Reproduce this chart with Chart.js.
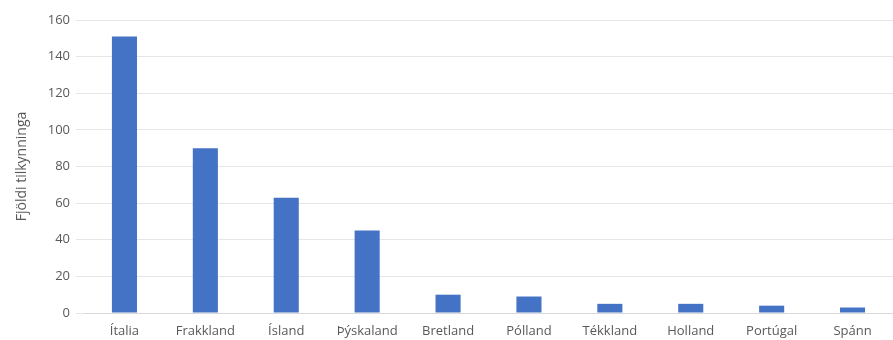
<!DOCTYPE html>
<html>
<head>
<meta charset="utf-8">
<script src="https://cdn.jsdelivr.net/npm/chart.js@4/dist/chart.umd.min.js"></script>
<style>
  html, body { margin:0; padding:0; background:#fff; }
  #wrap { width:893px; height:340px; position:relative; }
</style>
</head>
<body>
<div id="wrap"><canvas id="chart"></canvas></div>
<script>
// Values
const countries = ['Ítalia','Frakkland','Ísland','Þýskaland','Bretland','Pólland','Tékkland','Holland','Portúgal','Spánn'];
const reports = [151, 90, 63, 45, 10, 9, 5, 5, 4, 3];
const yTicks = [0, 20, 40, 60, 80, 100, 120, 140, 160];

const fontFamily = "'Open Sans', 'Liberation Sans', sans-serif";
const tickColor = '#595959';

new Chart(document.getElementById('chart'), {
    type: 'bar',
    data: {
        labels: countries,
        datasets: [{
            label: 'Fjöldi tilkynninga',
            data: reports,
            backgroundColor: '#4472C4',
            categoryPercentage: 1,
            barPercentage: 0.31
        }]
    },
    options: {
        responsive: true,
        maintainAspectRatio: false,
        animation: false,
        layout: { padding: { top: 20, right: 0, bottom: 0, left: 14 } },
        plugins: { legend: { display: false }, tooltip: { enabled: false } },
        scales: {
            x: {
                afterFit: s => { s.height = 27; },
                grid: { display: false, drawTicks: false },
                border: { color: '#d9d9d9' },
                ticks: { color: tickColor, font: { family: fontFamily, size: 13 }, padding: 10, maxRotation: 0 }
            },
            y: {
                min: 0,
                max: yTicks[yTicks.length - 1],
                afterBuildTicks: s => { s.ticks = yTicks.map(v => ({ value: v })); },
                afterFit: s => { s.width = 70; },
                grid: { color: '#e6e6e6', tickLength: 8 },
                border: { display: false },
                ticks: { color: tickColor, font: { family: fontFamily, size: 13 }, padding: 6 },
                title: {
                    display: true,
                    text: 'Fjöldi tilkynninga',
                    color: tickColor,
                    font: { family: fontFamily, size: 14 },
                    padding: { top: 0, bottom: 4 }
                }
            }
        }
    }
});
</script>
</body>
</html>
